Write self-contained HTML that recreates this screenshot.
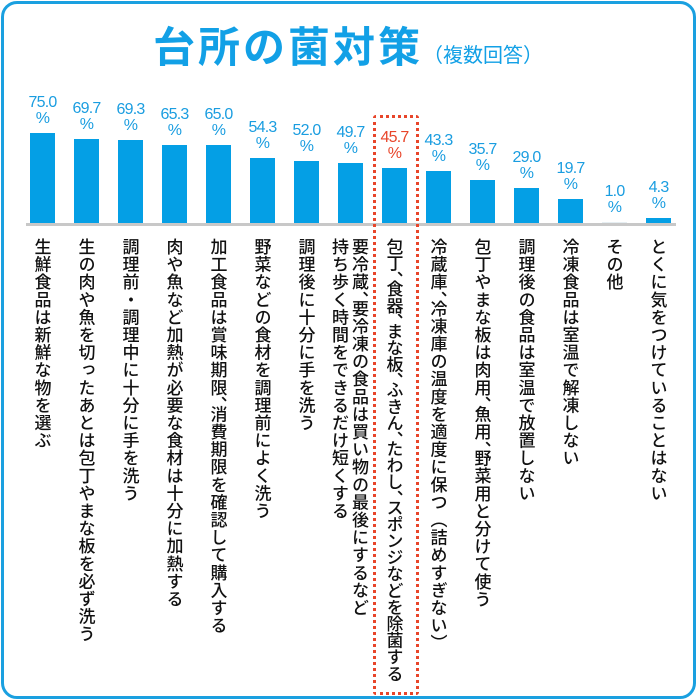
<!DOCTYPE html>
<html><head><meta charset="utf-8"><style>
body{margin:0;width:700px;height:700px;background:#fff;position:relative;overflow:hidden;font-family:"Liberation Sans","Noto Sans CJK JP",sans-serif}
.frame{position:absolute;left:1px;top:1px;width:689px;height:692px;border:3px solid #1aa0e0;border-radius:16px}
.title{position:absolute;left:153px;top:14px;font-size:42px;font-weight:bold;color:#12a0e6;letter-spacing:3px;white-space:nowrap}
.sub{font-size:20px;font-weight:normal;letter-spacing:0}
.bar{position:absolute;width:25px;background:#049fe5}
.val{position:absolute;width:60px;text-align:center;color:#1a9de0;font-size:16px;line-height:16px;letter-spacing:-0.8px}
.lab{position:absolute;top:238px;writing-mode:vertical-rl;font-size:17px;line-height:20px;color:#111;letter-spacing:0.6px;white-space:nowrap;font-family:"Noto Sans CJK JP",sans-serif;font-weight:500}
.c{display:inline-block;height:9px;overflow:visible}
.base{position:absolute;left:26px;top:223px;width:650px;height:3px;background:#c8c8c8}
.box{position:absolute;left:373px;top:115px;width:40px;height:574px;border:3px dotted #e8452a;border-radius:3px}
</style></head><body>
<div class="frame"></div>
<div class="title">台所の菌対策<span class="sub">（複数回答）</span></div>
<div class="base"></div>
<div class="box"></div>

<div class="bar" style="left:30px;top:133px;height:90px"></div>
<div class="bar" style="left:74px;top:139.4px;height:83.6px"></div>
<div class="bar" style="left:118px;top:139.8px;height:83.2px"></div>
<div class="bar" style="left:162px;top:144.6px;height:78.4px"></div>
<div class="bar" style="left:206px;top:145px;height:78px"></div>
<div class="bar" style="left:250px;top:157.8px;height:65.2px"></div>
<div class="bar" style="left:294px;top:160.6px;height:62.4px"></div>
<div class="bar" style="left:338px;top:163.4px;height:59.6px"></div>
<div class="bar" style="left:382px;top:168.2px;height:54.8px"></div>
<div class="bar" style="left:426px;top:171px;height:52px"></div>
<div class="bar" style="left:470px;top:180.2px;height:42.8px"></div>
<div class="bar" style="left:514px;top:188.2px;height:34.8px"></div>
<div class="bar" style="left:558px;top:199.4px;height:23.6px"></div>
<div class="bar" style="left:602px;top:221.8px;height:1.2px;background:#e6eef2"></div>
<div class="bar" style="left:646px;top:217.8px;height:5.2px"></div>

<div class="val" style="left:12.5px;top:95px">75.0<br>%</div>
<div class="val" style="left:56.5px;top:101.4px">69.7<br>%</div>
<div class="val" style="left:100.5px;top:101.8px">69.3<br>%</div>
<div class="val" style="left:144.5px;top:106.6px">65.3<br>%</div>
<div class="val" style="left:188.5px;top:107px">65.0<br>%</div>
<div class="val" style="left:232.5px;top:119.8px">54.3<br>%</div>
<div class="val" style="left:276.5px;top:122.6px">52.0<br>%</div>
<div class="val" style="left:320.5px;top:125.4px">49.7<br>%</div>
<div class="val" style="left:364.5px;top:130.2px;color:#e8452a">45.7<br>%</div>
<div class="val" style="left:408.5px;top:133px">43.3<br>%</div>
<div class="val" style="left:452.5px;top:142.2px">35.7<br>%</div>
<div class="val" style="left:496.5px;top:150.2px">29.0<br>%</div>
<div class="val" style="left:540.5px;top:161.4px">19.7<br>%</div>
<div class="val" style="left:584.5px;top:183.8px">1.0<br>%</div>
<div class="val" style="left:628.5px;top:179.8px">4.3<br>%</div>

<div class="lab" style="left:32.5px">生鮮食品は新鮮な物を選ぶ</div>
<div class="lab" style="left:76.5px">生の肉や魚を切ったあとは包丁やまな板を必ず洗う</div>
<div class="lab" style="left:120.5px">調理前・調理中に十分に手を洗う</div>
<div class="lab" style="left:164.5px">肉や魚など加熱が必要な食材は十分に加熱する</div>
<div class="lab" style="left:208.5px">加工食品は賞味期限<span class="c">、</span>消費期限を確認して購入する</div>
<div class="lab" style="left:252.5px">野菜などの食材を調理前によく洗う</div>
<div class="lab" style="left:296.5px">調理後に十分に手を洗う</div>
<div class="lab" style="left:330px">要冷蔵<span class="c">、</span>要冷凍の食品は買い物の最後にするなど<br>持ち歩く時間をできるだけ短くする</div>
<div class="lab" style="left:384.5px;letter-spacing:-0.4px">包丁<span class="c">、</span>食器<span class="c">、</span>まな板<span class="c">、</span>ふきん<span class="c">、</span>たわし<span class="c">、</span>スポンジなどを除菌する</div>
<div class="lab" style="left:428.5px">冷蔵庫<span class="c">、</span>冷凍庫の温度を適度に保つ（詰めすぎない）</div>
<div class="lab" style="left:472.5px">包丁やまな板は肉用<span class="c">、</span>魚用<span class="c">、</span>野菜用と分けて使う</div>
<div class="lab" style="left:516.5px">調理後の食品は室温で放置しない</div>
<div class="lab" style="left:560.5px">冷凍食品は室温で解凍しない</div>
<div class="lab" style="left:604.5px">その他</div>
<div class="lab" style="left:648.5px">とくに気をつけていることはない</div>
</body></html>
